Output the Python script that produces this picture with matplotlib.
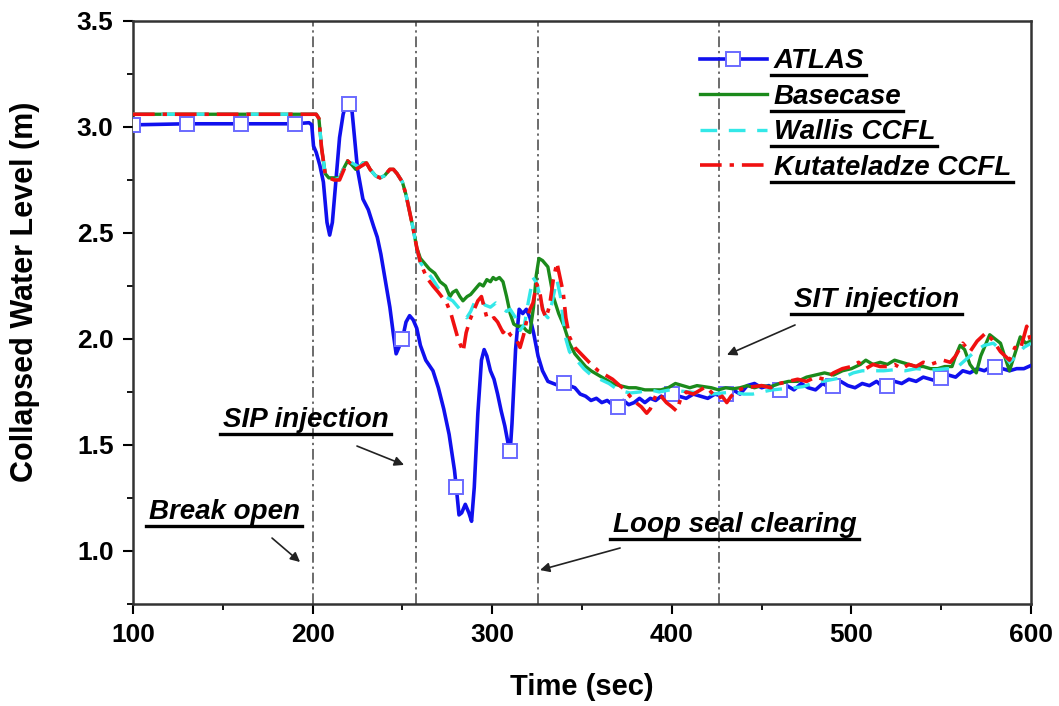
import numpy as np
import matplotlib
matplotlib.use("Agg")
import matplotlib.pyplot as plt
from matplotlib.lines import Line2D

plt.rcParams["font.family"] = ["Liberation Sans", "DejaVu Sans"]
plt.rcParams["font.weight"] = "bold"

# --- data ------------------------------------------------------------------
atlas_t = [100, 130, 160, 190, 198, 199.5, 200.5, 202, 204, 206, 208, 209.5, 211, 213, 215, 217,
           218, 220, 222, 225, 228, 231, 234, 236, 238, 240, 243, 245, 246.5, 248, 250, 252, 254,
           256, 258, 260, 263, 267, 270, 273, 276, 279, 280, 281.5, 283, 285, 287, 288.5, 290,
           292, 294, 295.5, 297, 299, 301, 303, 305, 307, 309, 310, 311, 313, 315, 317, 319, 321,
           323, 325.5, 328, 331, 334, 337, 340, 343, 346, 349, 352, 355, 358, 361, 364, 367, 370,
           373, 376, 379, 382, 385, 388, 391, 394, 397, 400, 404, 408, 412, 416, 420, 424, 428,
           430, 434, 438, 442, 446, 450, 454, 458, 460, 464, 468, 472, 476, 480, 484, 488, 490,
           494, 498, 502, 506, 510, 514, 518, 520, 524, 528, 532, 536, 540, 544, 548, 550, 554,
           558, 562, 566, 570, 574, 578, 580, 584, 588, 592, 596, 600]
atlas_y = [3.01, 3.015, 3.015, 3.015, 3.02, 3.01, 2.91, 2.88, 2.82, 2.74, 2.55, 2.49, 2.55, 2.75,
           2.95, 3.06, 3.09, 3.11, 3.07, 2.80, 2.66, 2.61, 2.53, 2.48, 2.40, 2.30, 2.15, 2.02, 1.93,
           1.96, 2.00, 2.08, 2.11, 2.09, 2.05, 1.97, 1.90, 1.85, 1.77, 1.67, 1.55, 1.38, 1.30, 1.17,
           1.18, 1.22, 1.18, 1.14, 1.30, 1.65, 1.90, 1.95, 1.92, 1.85, 1.81, 1.74, 1.66, 1.59, 1.50,
           1.47, 1.60, 1.95, 2.14, 2.12, 2.14, 2.10, 2.03, 1.92, 1.85, 1.80, 1.79, 1.78, 1.79, 1.78,
           1.77, 1.74, 1.73, 1.71, 1.72, 1.70, 1.71, 1.69, 1.68, 1.71, 1.69, 1.70, 1.72, 1.70, 1.72,
           1.71, 1.73, 1.72, 1.74, 1.73, 1.72, 1.74, 1.73, 1.72, 1.74, 1.73, 1.74, 1.76, 1.74, 1.78,
           1.79, 1.77, 1.78, 1.76, 1.76, 1.78, 1.76, 1.79, 1.77, 1.76, 1.79, 1.77, 1.78, 1.80, 1.78,
           1.77, 1.79, 1.78, 1.80, 1.77, 1.78, 1.80, 1.79, 1.81, 1.80, 1.82, 1.81, 1.80, 1.815, 1.83,
           1.82, 1.85, 1.84, 1.86, 1.85, 1.87, 1.87, 1.86, 1.85, 1.86, 1.86, 1.875]
atlas_marker_t = [100, 130, 160, 190, 220, 250, 280, 310, 340, 370, 400, 430, 460, 490, 520, 550, 580]

base_t = [100, 202, 203.5, 205, 207, 209, 212, 215, 217, 219.5, 222, 224, 226, 228, 230, 232, 235,
          237.5, 240, 243, 245, 247, 250, 252, 254, 256, 258, 260, 262, 265, 268, 271, 274, 276.5,
          278, 280, 282, 283.7, 286, 288, 290, 293, 295, 297, 299, 300.5, 302, 304, 306, 308, 310,
          312, 314, 317, 319, 321, 323, 324.5, 326, 328, 331, 334, 337, 340, 343, 346, 349, 352,
          355, 359, 363, 367, 371, 376, 380, 385, 390, 394, 398, 402, 406, 410, 414, 418, 422, 426,
          430, 434, 438, 442, 446, 450, 455, 460, 465, 470, 475, 480, 485, 490, 495, 500, 505, 508,
          512, 516, 520, 524, 528, 532, 536, 540, 544, 548, 552, 556, 558, 560.5, 563, 566, 569.5,
          572, 575, 577, 580, 583, 586, 588, 591, 594, 597, 600]
base_y = [3.06, 3.06, 3.04, 2.90, 2.78, 2.76, 2.76, 2.76, 2.80, 2.84, 2.82, 2.80, 2.81, 2.83, 2.83,
          2.80, 2.77, 2.76, 2.77, 2.80, 2.80, 2.78, 2.74, 2.68, 2.60, 2.52, 2.43, 2.38, 2.36, 2.33,
          2.31, 2.27, 2.25, 2.20, 2.22, 2.23, 2.20, 2.18, 2.20, 2.21, 2.23, 2.26, 2.25, 2.28, 2.27,
          2.29, 2.28, 2.29, 2.27, 2.20, 2.12, 2.07, 2.06, 2.06, 2.04, 2.03, 2.15, 2.30, 2.38, 2.37,
          2.34, 2.20, 2.12, 2.06, 1.98, 1.93, 1.90, 1.87, 1.85, 1.83, 1.81, 1.79, 1.78, 1.77, 1.77,
          1.76, 1.76, 1.76, 1.77, 1.79, 1.78, 1.77, 1.78, 1.775, 1.77, 1.76, 1.77, 1.765, 1.77, 1.78,
          1.77, 1.78, 1.775, 1.79, 1.80, 1.80, 1.82, 1.83, 1.84, 1.83, 1.85, 1.86, 1.88, 1.90, 1.88,
          1.89, 1.88, 1.90, 1.89, 1.88, 1.87, 1.87, 1.86, 1.86, 1.87, 1.87, 1.92, 1.97, 1.95, 1.88,
          1.84, 1.92, 1.98, 2.02, 2.00, 1.98, 1.90, 1.85, 1.93, 2.01, 1.98, 1.99]

wallis_t = [100, 202, 203.5, 205, 207, 209, 212, 215, 217, 219.5, 222, 224, 226, 228, 230, 232, 235,
            237.5, 240, 243, 245, 247, 250, 252, 254, 256, 258, 260, 263.5, 267, 270, 274, 278,
            282, 285.8, 288, 290, 293, 296, 299, 302, 305, 308, 310, 313, 315.5, 318, 320, 322.7,
            325, 327, 329, 331, 333, 336, 338, 339.5, 341, 343, 347, 351, 355, 360, 365, 370, 376.7,
            382, 388, 393, 399, 404, 410, 416, 422, 428, 434, 440, 445, 450, 456, 462, 468, 473, 478,
            484, 490, 496, 501, 506, 512, 518, 524, 530, 536, 542, 547.5, 553, 558, 562, 566, 570,
            574, 579, 583, 588, 592, 596, 600]
wallis_y = [3.06, 3.06, 3.04, 2.90, 2.78, 2.76, 2.75, 2.76, 2.80, 2.84, 2.83, 2.82, 2.81, 2.83,
            2.83, 2.80, 2.77, 2.76, 2.77, 2.80, 2.80, 2.78, 2.74, 2.68, 2.60, 2.52, 2.42, 2.36, 2.32,
            2.28, 2.24, 2.20, 2.18, 2.14, 2.10, 2.13, 2.17, 2.19, 2.16, 2.15, 2.17, 2.15, 2.13, 2.14,
            2.10, 2.04, 2.07, 2.17, 2.29, 2.26, 2.18, 2.12, 2.10, 2.16, 2.28, 2.20, 2.09, 2.00, 1.94,
            1.90, 1.86, 1.83, 1.81, 1.79, 1.76, 1.745, 1.75, 1.76, 1.75, 1.76, 1.755, 1.75, 1.745,
            1.74, 1.745, 1.75, 1.74, 1.74, 1.75, 1.76, 1.765, 1.77, 1.775, 1.79, 1.80, 1.81, 1.82,
            1.84, 1.85, 1.85, 1.85, 1.855, 1.85, 1.86, 1.855, 1.855, 1.86, 1.86, 1.89, 1.92, 1.95,
            1.97, 1.98, 1.95, 1.89, 1.92, 1.96, 1.98]

kutat_t = [100, 202, 203.5, 205, 207, 209, 212, 215, 217, 219.5, 222, 224, 226, 228, 230, 232, 235,
           237.5, 240, 243, 245, 247, 250, 252, 254, 256, 258, 260, 263.5, 267, 270, 274.6, 277,
           279, 281, 283.8, 285.5, 287.6, 290, 292, 294, 295.5, 297, 299, 301, 303, 306, 308, 310,
           313.6, 315.5, 317.5, 319, 321, 322.7, 324.7, 326.5, 328, 330, 332, 334, 336, 337.5,
           339.5, 341, 343, 346, 350.6, 354, 359, 363, 367, 371, 374, 376.7, 380, 383, 386, 388,
           391.6, 394, 397, 400, 402.7, 405, 408, 412, 416, 419, 423, 426, 428, 430.6, 433, 437,
           441, 445, 450, 455, 460, 465, 470, 475, 480, 485, 490, 495, 500, 504, 508, 512, 516, 520,
           524, 528, 532, 536, 540, 544, 547.5, 551, 555, 558, 562, 566, 570, 575, 579, 583, 588,
           591, 594, 597.6, 600]
kutat_y = [3.06, 3.06, 3.04, 2.90, 2.78, 2.76, 2.75, 2.75, 2.79, 2.84, 2.82, 2.80, 2.81, 2.82, 2.83,
           2.80, 2.77, 2.76, 2.77, 2.80, 2.80, 2.78, 2.74, 2.68, 2.60, 2.52, 2.43, 2.36, 2.29, 2.25,
           2.22, 2.17, 2.12, 2.06, 2.00, 1.94, 2.03, 2.09, 2.14, 2.18, 2.20, 2.15, 2.10, 2.09, 2.10,
           2.08, 2.03, 2.05, 2.02, 1.995, 1.96, 2.02, 2.08, 2.14, 2.17, 2.26, 2.22, 2.14, 2.10, 2.16,
           2.28, 2.36, 2.30, 2.22, 2.10, 2.01, 1.96, 1.92, 1.89, 1.85, 1.83, 1.81, 1.78, 1.76, 1.73,
           1.70, 1.68, 1.65, 1.67, 1.745, 1.73, 1.70, 1.68, 1.66, 1.72, 1.75, 1.74, 1.76, 1.775,
           1.74, 1.72, 1.73, 1.70, 1.73, 1.76, 1.77, 1.775, 1.78, 1.77, 1.79, 1.80, 1.81, 1.80,
           1.82, 1.81, 1.84, 1.86, 1.87, 1.89, 1.86, 1.88, 1.87, 1.87, 1.88, 1.86, 1.88, 1.87, 1.89,
           1.88, 1.89, 1.90, 1.89, 1.92, 1.98, 1.94, 1.99, 2.03, 1.99, 1.94, 1.90, 1.96, 1.95, 2.06,
           1.98]

event_t = [200, 257.5, 325.5, 426]
events = [  # label, text pos, arrow tail, arrow head
    ("Break open", (150.7, 1.184), (177.4, 1.061), (193.0, 0.948)),
    ("SIP injection", (196.3, 1.618), (224.7, 1.495), (250.9, 1.406)),
    ("Loop seal clearing", (435.2, 1.123), (371.2, 1.014), (326.6, 0.910)),
    ("SIT injection", (514.3, 2.184), (468.6, 2.066), (430.7, 1.925)),
]

# --- figure ----------------------------------------------------------------
fig = plt.figure(figsize=(10.59, 7.06), dpi=100)
ax = fig.add_axes([0.1256, 0.1445, 0.848, 0.8258])

for t in event_t:
    ax.axvline(t, color="#444444", lw=1.1, dashes=(7, 2.5, 1.5, 2.5), zorder=1)

marker_idx = [int(i) for i in np.flatnonzero(np.isin(atlas_t, atlas_marker_t))]
ax.plot(atlas_t, atlas_y, color="#1010ee", lw=2.6, marker="s", markevery=marker_idx,
        ms=9.5, mfc="white", mec="#6a6aff", mew=1.4, label="ATLAS", zorder=3)
ax.plot(base_t, base_y, color="#1b8a1b", lw=2.4, label="Basecase", zorder=4)
ax.plot(wallis_t, wallis_y, color="#33e8e8", lw=2.4, dashes=(5, 3.5), label="Wallis CCFL", zorder=5)
ax.plot(kutat_t, kutat_y, color="#f01010", lw=2.6, dashes=(6, 2.2, 1.2, 2.2),
        label="Kutateladze CCFL", zorder=6)

ax.set_xlim(100, 600)
ax.set_ylim(0.75, 3.5)
ax.set_xticks(np.arange(100, 601, 100))
ax.set_xticks(np.arange(150, 600, 100), minor=True)
ax.set_yticks([1.0, 1.5, 2.0, 2.5, 3.0, 3.5])
ax.set_yticks(np.arange(0.75, 3.5, 0.5), minor=True)
ax.yaxis.set_major_formatter(matplotlib.ticker.FormatStrFormatter("%.1f"))
ax.tick_params(which="major", direction="out", length=7, width=1.5, labelsize=19, pad=7)
ax.tick_params(which="minor", direction="out", length=4, width=1.3)
for s in ax.spines.values():
    s.set_linewidth(1.8)
    s.set_color("#333333")

ax.set_xlabel("Time (sec)", fontsize=21, fontweight="bold")
ax.set_ylabel("Collapsed Water Level (m)", fontsize=22, fontweight="bold")
ax.xaxis.set_label_coords(0.5, -0.118)
ax.yaxis.set_label_coords(-0.104, 0.535)

txt_objs = []
for label, tp, tail, head in events:
    t = ax.text(tp[0], tp[1], label, fontsize=20, fontweight="bold", style="italic",
                ha="center", va="center")
    txt_objs.append(t)
    ax.annotate("", xy=head, xytext=tail,
                arrowprops=dict(arrowstyle="-|>", color="#222222", lw=1.2, mutation_scale=14,
                                shrinkA=0, shrinkB=0))

leg = ax.legend(loc="upper left", bbox_to_anchor=(0.619, 0.972), frameon=False,
                prop=dict(size=20, weight="bold", style="italic"),
                handlelength=2.4, handletextpad=0.25, labelspacing=0.34, borderaxespad=0)
txt_objs += list(leg.get_texts())

# underline every annotation / legend label
fig.canvas.draw()
r = fig.canvas.get_renderer()
W, H = fig.bbox.width, fig.bbox.height
for t in txt_objs:
    bb = t.get_window_extent(r)
    y = bb.y0 - 1
    fig.add_artist(Line2D([(bb.x0 - 3) / W, (bb.x1 + 2) / W], [y / H, y / H],
                          transform=fig.transFigure, color="black", lw=2.4))

fig.savefig("out.png", dpi=100)
